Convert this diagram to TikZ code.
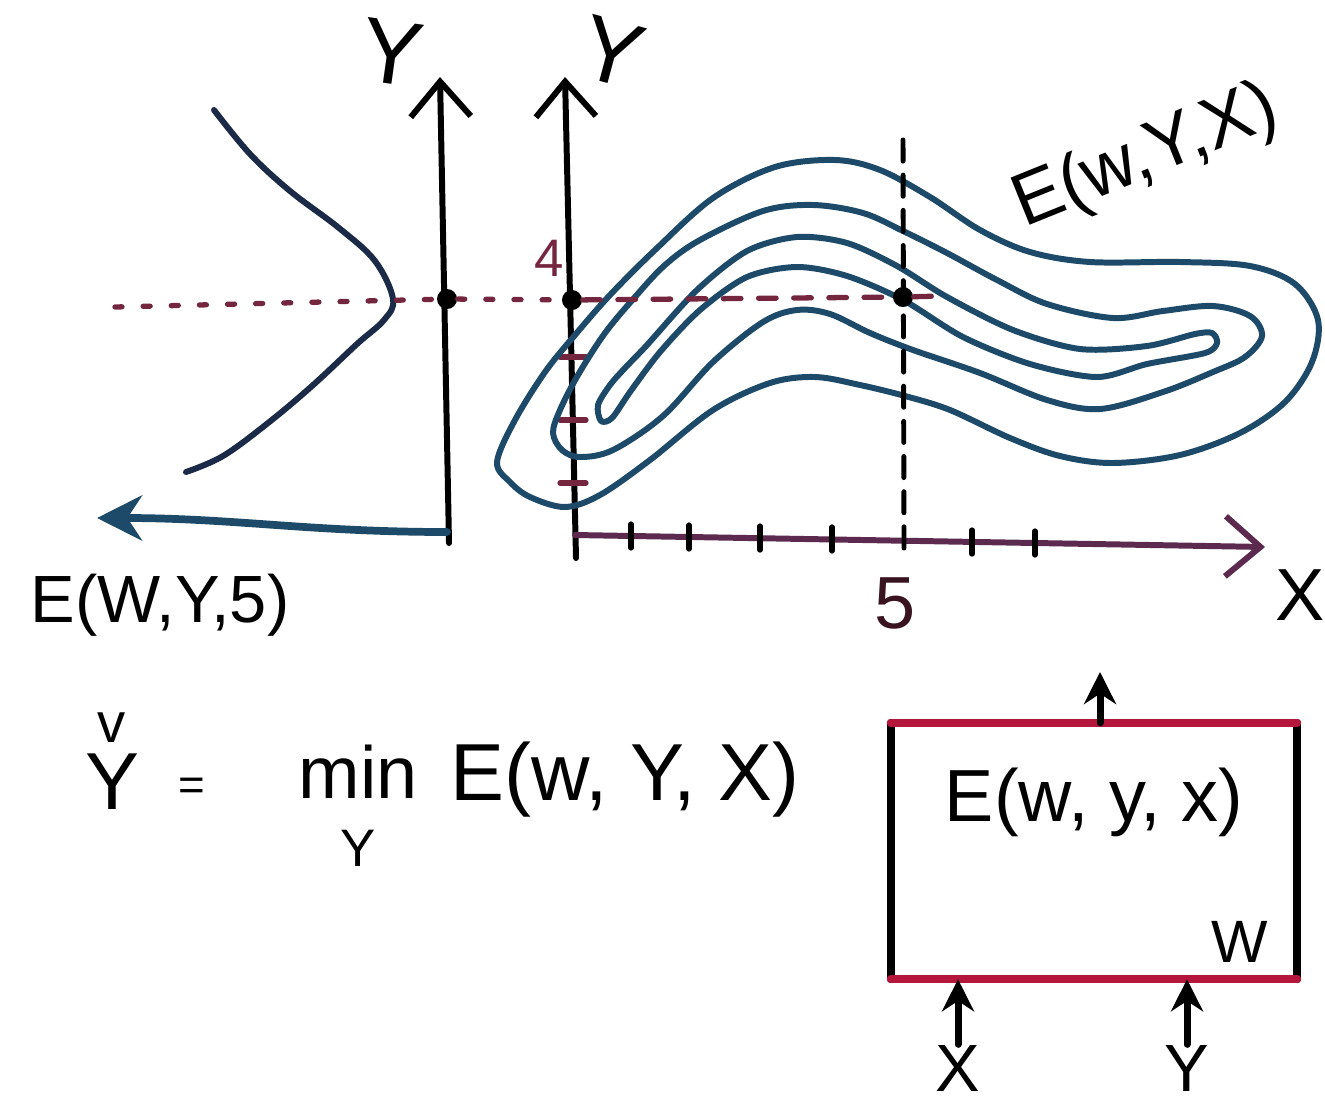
\documentclass[tikz,border=0pt]{standalone}
\usepackage{fontspec}
\setmainfont{Liberation Sans}
\usetikzlibrary{arrows.meta,positioning}
\definecolor{inkblue}{HTML}{1D4A68}
\definecolor{inknavy}{HTML}{1B2A47}
\definecolor{inkred}{HTML}{B5173C}
\definecolor{inkmaroon}{HTML}{74263F}
\definecolor{inkplum}{HTML}{5B2A4E}

\begin{document}
\begin{tikzpicture}[
      x=0.01cm, y=-0.01cm,
      line cap=round, line join=round,
      axis/.style={
        line width=1.7pt,
        -{Straight Barb[length=3.5mm,width=6mm,line width=1.7pt]}
      },
      contour/.style={line width=1.7pt, inkblue},
      guide/.style={line width=1.5pt, inkmaroon, dash pattern=on 2pt off 6pt},
      guidedash/.style={line width=1.5pt, inkmaroon, dash pattern=on 5pt off 5pt},
      cut/.style={line width=1.4pt, black, dash pattern=on 6pt off 4pt},
      dot/.style={circle, fill=black, inner sep=0pt, minimum size=2mm},
      tickmark/.style={line width=1.5pt},
      hand/.style={inner sep=0pt, font=\fontsize{19}{22}\selectfont},
      handbig/.style={inner sep=0pt, font=\fontsize{26}{30}\selectfont},
      handeq/.style={inner sep=0pt, font=\fontsize{23}{26}\selectfont},
      fnbox/.style={minimum width=4.05cm, minimum height=2.55cm, inner sep=0pt},
      boxside/.style={line width=2.2pt},
      inarr/.style={line width=2pt, -{Stealth[length=3.2mm,width=3.2mm]}},
      outarr/.style={line width=2.2pt, inkblue, -{Stealth[length=4.5mm,width=4.5mm]}}
    ]

    \useasboundingbox (0,0) rectangle (1325,1118);

    % left panel: slice at x = 5
    \coordinate (lybot) at (449,543);
    \coordinate (lytop) at (440,77);
    \draw[axis] (lybot) -- (lytop);
    \node[handbig, rotate=-8] (lylbl) at (392,53) {Y};

    \draw[line width=1.7pt, inknavy] plot[smooth, tension=0.6] coordinates {
      (214,110) (250,154) (290,191) (339,228) (375,261) (393,299)
      (384,320) (357,344) (312,386) (268,423) (223,456) (186,472)};

    \coordinate (lyfoot) at (447,532);
    \coordinate (etip) at (97,518);
    \draw[outarr] (lyfoot) to[out=180,in=0] (etip);
    \node[hand] (eslice) at (160,605) {E(W,Y,5)};

    % main panel
    \coordinate (o) at (576,558);
    \coordinate (ytop) at (565,77);
    \coordinate (xfoot) at (575,535);
    \coordinate (xtip) at (1265,547);
    \draw[axis] (o) -- (ytop);
    \draw[axis, inkplum] (xfoot) -- (xtip);
    \node[handbig, rotate=-15] (mylbl) at (612,52) {Y};
    \node[hand, font=\fontsize{21}{24}\selectfont] (xlbl) at (1300,595) {X};

    \foreach \tx/\ty in {631/536,689/537,760/538,832/539,972/542,1035/543}
      \draw[tickmark] (\tx,\ty-12) -- (\tx,\ty+12);
    \foreach \ty in {357,420,483}
      \draw[tickmark, inkmaroon] (560,\ty) -- (586,\ty);

    % energy contours
    \draw[contour] plot[smooth cycle, tension=0.55] coordinates {
      (497,462) (515,420) (545,372) (575,335) (610,295) (655,250)
      (713,198) (775,167) (835,160) (880,170) (930,197) (980,230)
      (1030,252) (1090,262) (1180,262) (1250,266) (1295,284) (1318,320)
      (1312,362) (1285,402) (1240,433) (1180,455) (1113,463) (1060,456)
      (1010,438) (950,410) (905,396) (860,385) (815,377) (770,383)
      (713,410) (650,460) (600,495) (565,507) (530,497) (510,482)};
    \draw[contour] plot[smooth cycle, tension=0.55] coordinates {
      (553,433) (560,410) (578,375) (605,333) (635,297) (665,265)
      (700,240) (763,211) (813,205) (863,213) (903,231) (947,253)
      (997,280) (1047,304) (1113,318) (1163,311) (1213,306) (1250,316)
      (1262,336) (1245,357) (1213,372) (1163,392) (1100,409) (1047,400)
      (980,373) (913,350) (870,333) (830,314) (797,310) (763,322)
      (713,362) (663,416) (613,450) (580,457) (562,450)};
    \draw[contour] plot[smooth cycle, tension=0.5] coordinates {
      (598,405) (610,385) (625,368) (647,345) (697,290) (747,251)
      (797,237) (847,243) (897,266) (947,297) (1013,330) (1080,349)
      (1147,346) (1195,334) (1212,333) (1217,343) (1205,353) (1147,364)
      (1097,377) (1030,364) (963,337) (903,300) (847,276) (797,267)
      (747,277) (700,310) (660,352) (630,392) (612,418) (601,421)};
    \node[hand, rotate=22, font=\fontsize{21}{24}\selectfont] (elbl) at (1146,158) {E(w,Y,X)};

    % slice at x = 5, y = 4
    \coordinate (cuttop) at (903,140);
    \coordinate (cutbot) at (904,550);
    \draw[cut] (cuttop) -- (cutbot);
    \node[hand, font=\fontsize{21}{24}\selectfont, text=inkmaroon!50!black] (xfive) at (895,603) {5};

    \node[dot] (dleft) at (447,299) {};
    \node[dot] (dmid) at (572,300) {};
    \node[dot] (dright) at (903,297) {};
    \coordinate (gstart) at (115,307);
    \coordinate (gend) at (942,296);
    \draw[guide] (gstart) -- (dleft) -- (dmid);
    \draw[guidedash] (dmid) -- (dright) -- (gend);
    \node[hand, font=\fontsize{15}{18}\selectfont, text=inkmaroon] (yfour) at (549,258) {4};

    % inference as minimisation
    \node[handeq] (ycheck) at (112,782) {Y};
    \node[hand, font=\fontsize{16}{18}\selectfont, above=1mm of ycheck] (ycaron) {v};
    \node[hand, font=\fontsize{13}{15}\selectfont] (eqsign) at (192,789) {=};
    \node[hand, font=\fontsize{21}{24}\selectfont] (minop) at (358,772) {min};
    \node[hand, font=\fontsize{15}{18}\selectfont, below=3mm of minop] (minsub) {Y};
    \node[handeq] (eqrhs) at (625,780) {E(w, Y, X)};

    % energy function as a box
    \node[fnbox] (ebox) at (1094,851) {};
    \draw[boxside] (ebox.north west) -- (ebox.south west);
    \draw[boxside] (ebox.north east) -- (ebox.south east);
    \draw[boxside, inkred] (ebox.north west) -- (ebox.north east);
    \draw[boxside, inkred] (ebox.south west) -- (ebox.south east);
    \node[hand, font=\fontsize{21}{24}\selectfont, below=4.5mm of ebox.north] (etext) {E(w, y, x)};
    \node[hand, font=\fontsize{17}{20}\selectfont] (wlbl) at (1240,942) {W};

    \coordinate (eout) at (1100,672);
    \draw[inarr] (ebox.north -| eout) -- (eout);

    \node[hand] (xin) at (958,1068) {X};
    \node[hand] (yin) at (1187,1068) {Y};
    \draw[inarr] (xin.north) -- (xin.north |- ebox.south);
    \draw[inarr] (yin.north) -- (yin.north |- ebox.south);

  \end{tikzpicture}
\end{document}
